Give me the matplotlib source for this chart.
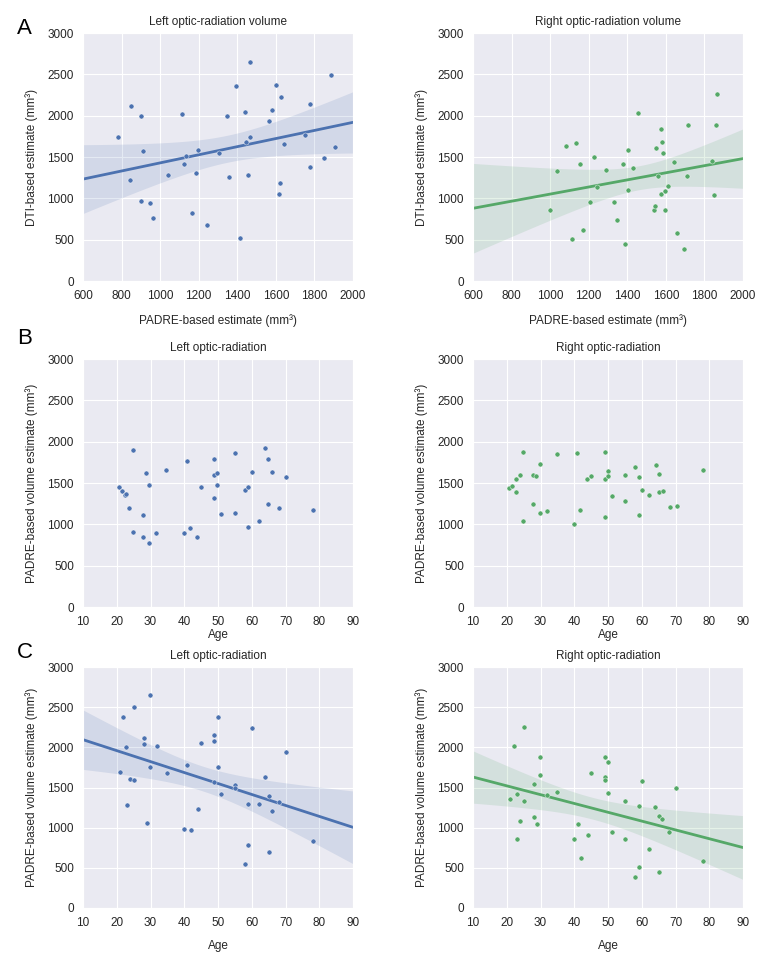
"""Optic-radiation volumes: DTI vs PADRE estimates (A) and volume vs age (B, C)."""
import numpy as np
import matplotlib; matplotlib.use("Agg")
import matplotlib.pyplot as plt
import seaborn as sns

# --- panel A: PADRE-based (x) vs DTI-based (y) ---
a_left_x = [779, 850, 845, 902, 910, 902, 948, 964, 1041, 1114, 1124, 1134, 1166, 1188, 1197, 1245,
            1303, 1348, 1359, 1393, 1412, 1440, 1445, 1453, 1466, 1467, 1566, 1579, 1603, 1617,
            1619, 1626, 1643, 1753, 1776, 1778, 1850, 1884, 1907]
a_left_y = [1740, 2111, 1223, 1998, 1574, 969, 949, 763, 1280, 2023, 1413, 1514, 820, 1312, 1587, 674,
            1550, 1994, 1264, 2362, 525, 2043, 1679, 1288, 2644, 1736, 1930, 2063, 2370, 1054,
            1191, 2229, 1659, 1764, 1373, 2140, 1486, 2487, 1615]
a_right_x = [1001, 1034, 1082, 1115, 1132, 1155, 1169, 1207, 1227, 1241, 1288, 1331, 1347, 1379, 1386,
             1404, 1405, 1430, 1454, 1538, 1545, 1548, 1559, 1576, 1576, 1580, 1587, 1594, 1596,
             1609, 1640, 1656, 1692, 1711, 1715, 1841, 1850, 1860, 1867]
a_right_y = [864, 1336, 1639, 513, 1667, 1413, 618, 953, 1506, 1134, 1344, 953, 735, 1417, 452,
             1587, 1106, 1365, 2027, 856, 912, 1603, 1276, 1833, 1054, 1679, 1550, 856, 1086,
             1151, 1437, 585, 388, 1268, 1885, 1457, 1046, 1885, 2265]

# --- panel B: age vs PADRE-based volume ---
b_left_age = [20.7, 21.6, 22.5, 22.7, 23.6, 24.7, 24.7, 27.7, 27.7, 28.7, 29.6, 29.6, 31.7, 34.7,
              39.8, 40.8, 41.8, 43.9, 44.9, 48.7, 48.7, 48.7, 49.8, 49.8, 50.9, 54.9, 54.9, 58.0,
              58.9, 58.9, 60.0, 62.0, 64.0, 64.9, 64.9, 66.1, 68.1, 70.0, 78.0]
b_left_vol = [1451, 1402, 1358, 1366, 1203, 1904, 913, 1117, 844, 1627, 1476, 775, 901, 1655,
              901, 1769, 950, 844, 1451, 1794, 1594, 1313, 1618, 1476, 1125, 1863, 1141, 1419,
              1455, 966, 1639, 1044, 1920, 1794, 1252, 1635, 1194, 1578, 1170]
b_right_age = [20.6, 21.7, 22.6, 22.7, 23.8, 24.8, 24.8, 27.8, 27.8, 28.6, 29.9, 29.9, 31.9, 34.9,
               39.8, 40.9, 41.8, 43.8, 44.9, 49.0, 49.0, 49.0, 50.0, 50.0, 51.1, 55.0, 55.0, 58.1,
               59.1, 59.1, 60.2, 62.2, 64.1, 65.2, 65.2, 66.2, 68.3, 70.3, 78.1]
b_right_vol = [1435, 1459, 1545, 1386, 1602, 1879, 1035, 1247, 1594, 1590, 1728, 1133, 1158, 1851,
               998, 1863, 1174, 1553, 1586, 1871, 1553, 1084, 1647, 1582, 1337, 1602, 1288, 1696,
               1570, 1117, 1411, 1349, 1720, 1614, 1394, 1406, 1211, 1227, 1663]

# --- panel C: age vs volume, with fit ---
c_left_age = [20.9, 21.9, 22.8, 22.9, 23.9, 25.0, 25.0, 28.0, 28.0, 28.9, 29.9, 29.9, 31.9, 35.0,
              39.9, 40.9, 41.9, 44.0, 44.9, 48.9, 48.9, 48.9, 50.0, 50.0, 51.0, 55.0, 55.0, 58.0,
              58.9, 58.9, 60.1, 62.0, 64.0, 65.0, 65.0, 66.1, 68.1, 70.0, 78.0]
c_left_vol = [1688, 2375, 2004, 1279, 1600, 1588, 2500, 2121, 2038, 1063, 2650, 1754, 2013, 1675,
              983, 1779, 967, 1238, 2058, 2154, 2075, 1563, 2379, 1754, 1425, 1529, 1500, 546,
              1300, 783, 2238, 1296, 1625, 1392, 696, 1208, 1321, 1938, 838]
c_right_age = [20.9, 22.0, 22.9, 22.9, 24.0, 25.0, 25.0, 28.0, 28.0, 28.9, 29.9, 29.9, 32.0, 35.0,
               39.9, 41.0, 41.9, 44.0, 44.9, 49.0, 49.0, 49.0, 50.0, 50.0, 51.1, 55.0, 55.0, 58.1,
               59.1, 59.1, 60.1, 62.0, 63.9, 65.0, 65.0, 66.1, 68.1, 70.0, 78.0]
c_right_vol = [1354, 2017, 1413, 854, 1079, 2254, 1329, 1129, 1546, 1050, 1875, 1654, 1404, 1450,
               858, 1042, 617, 908, 1675, 1875, 1633, 1592, 1821, 1429, 946, 1338, 854, 388,
               1267, 513, 1575, 733, 1258, 1146, 450, 1104, 946, 1496, 588]

BLUE, GREEN = "#4C72B0", "#55A868"
T975 = 2.026  # t quantile, df = 37

sns.set_style("darkgrid")
plt.rcParams["font.family"] = ["Liberation Sans", "DejaVu Sans"]
plt.rcParams.update({"font.size": 8, "xtick.labelsize": 8.5, "ytick.labelsize": 8.5,
                     "xtick.color": "#262626", "ytick.color": "#262626"})

fig = plt.figure(figsize=(7.8, 9.6), dpi=100)
W, H = 780, 960


def add_ax(left, top, width, height):
    return fig.add_axes([left / W, 1 - (top + height) / H, width / W, height / H])


def panel(ax, x, y, color, title, xlabel, ylabel, xlim, xticks, fit, xpad):
    x = np.asarray(x, float); y = np.asarray(y, float)
    if fit:
        b, a = np.polyfit(x, y, 1)
        n = len(x); resid = y - (a + b * x)
        s = np.sqrt((resid ** 2).sum() / (n - 2))
        sxx = ((x - x.mean()) ** 2).sum()
        gx = np.linspace(xlim[0], xlim[1], 200)
        gy = a + b * gx
        se = s * np.sqrt(1 / n + (gx - x.mean()) ** 2 / sxx)
        ax.fill_between(gx, gy - T975 * se, gy + T975 * se, color=color, alpha=0.15, lw=0)
        ax.plot(gx, gy, color=color, lw=2)
    ax.scatter(x, y, s=13, color=color, edgecolor="white", linewidths=0.3, zorder=3)
    ax.set_xlim(*xlim); ax.set_ylim(0, 3000)
    ax.set_xticks(xticks); ax.set_yticks(range(0, 3001, 500))
    ax.set_title(title, fontsize=8.5, pad=6)
    ax.set_xlabel(xlabel, fontsize=8.5, labelpad=xpad)
    ax.set_ylabel(ylabel, fontsize=8.5, labelpad=7)
    ax.tick_params(pad=3)


padre_x = "PADRE-based estimate (mm³)"
age_ticks = range(10, 91, 10)
vol_ticks = range(600, 2001, 200)

ax = add_ax(83, 33, 270, 248)
panel(ax, a_left_x, a_left_y, BLUE, "Left optic-radiation volume", padre_x,
      "DTI-based estimate (mm³)", (600, 2000), vol_ticks, True, 9)
ax = add_ax(473, 33, 270, 248)
panel(ax, a_right_x, a_right_y, GREEN, "Right optic-radiation volume", padre_x,
      "DTI-based estimate (mm³)", (600, 2000), vol_ticks, True, 9)

ax = add_ax(83, 359, 270, 248)
panel(ax, b_left_age, b_left_vol, BLUE, "Left optic-radiation", "Age",
      "PADRE-based volume estimate (mm³)", (10, 90), age_ticks, False, 1)
ax = add_ax(473, 359, 270, 248)
panel(ax, b_right_age, b_right_vol, GREEN, "Right optic-radiation", "Age",
      "PADRE-based volume estimate (mm³)", (10, 90), age_ticks, False, 1)

ax = add_ax(83, 667, 270, 241)
panel(ax, c_left_age, c_left_vol, BLUE, "Left optic-radiation", "Age",
      "PADRE-based volume estimate (mm³)", (10, 90), age_ticks, True, 8)
ax = add_ax(473, 667, 270, 241)
panel(ax, c_right_age, c_right_vol, GREEN, "Right optic-radiation", "Age",
      "PADRE-based volume estimate (mm³)", (10, 90), age_ticks, True, 8)

for letter, ypix in [("A", 29), ("B", 338), ("C", 652)]:
    fig.text(17 / W, 1 - ypix / H, letter, fontsize=16, ha="left", va="center", color="black")

fig.savefig("out.png", dpi=100, facecolor="white")
